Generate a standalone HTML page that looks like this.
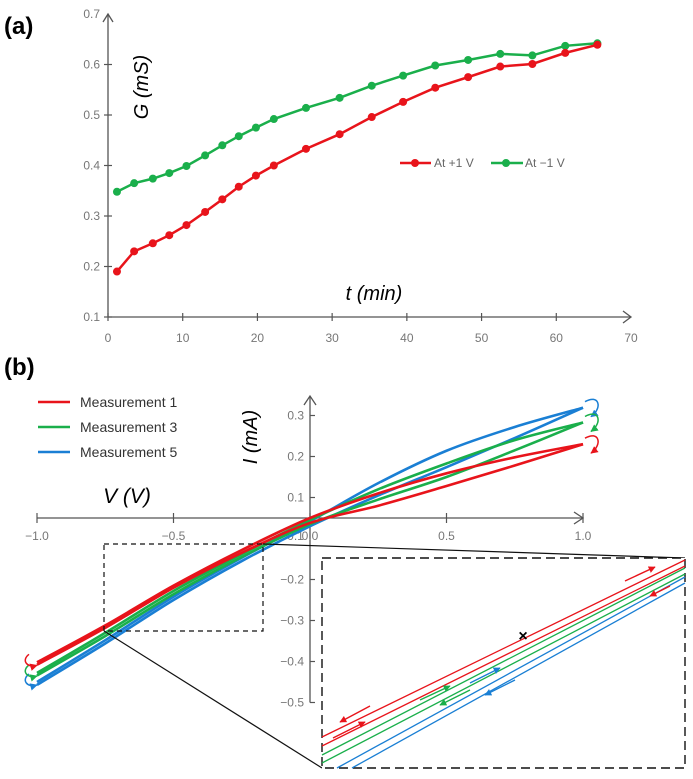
<!DOCTYPE html>
<html><head><meta charset="utf-8"><style>
html,body{margin:0;padding:0;background:#fff;}
svg{display:block;font-family:"Liberation Sans",sans-serif;}
</style></head><body>
<svg id="fig" width="693" height="779" viewBox="0 0 693 779">
<defs>
<marker id="ahR" viewBox="0 0 10 10" refX="9" refY="5" markerWidth="5" markerHeight="5" orient="auto"><path d="M0,0 L10,5 L0,10 z" fill="#e8141b"/></marker>
<marker id="ahG" viewBox="0 0 10 10" refX="9" refY="5" markerWidth="5" markerHeight="5" orient="auto"><path d="M0,0 L10,5 L0,10 z" fill="#1aaf4b"/></marker>
<marker id="ahB" viewBox="0 0 10 10" refX="9" refY="5" markerWidth="5" markerHeight="5" orient="auto"><path d="M0,0 L10,5 L0,10 z" fill="#1a7fd4"/></marker>
</defs>
<text x="4" y="34" font-size="24" font-weight="bold">(a)</text>
<text x="4" y="375" font-size="24" font-weight="bold">(b)</text>
<g id="topChart"></g>
<g id="botChart"></g>
</svg>
<script>
// ---- Panel (a) data ----
const tRed = [1.2,3.5,6,8.2,10.5,13,15.3,17.5,19.8,22.2,26.5,31,35.3,39.5,43.8,48.2,52.5,56.8,61.2,65.5];
const gRed = [0.19,0.23,0.246,0.262,0.282,0.308,0.333,0.358,0.38,0.40,0.433,0.462,0.496,0.526,0.554,0.575,0.596,0.601,0.623,0.639];
const tGreen = [1.2,3.5,6,8.2,10.5,13,15.3,17.5,19.8,22.2,26.5,31,35.3,39.5,43.8,48.2,52.5,56.8,61.2,65.5];
const gGreen = [0.348,0.365,0.374,0.385,0.399,0.42,0.44,0.458,0.475,0.492,0.514,0.534,0.558,0.578,0.598,0.609,0.621,0.618,0.637,0.642];
const xTicksA = [0,10,20,30,40,50,60,70];
const yTicksA = [0.1,0.2,0.3,0.4,0.5,0.6,0.7];

// ---- Panel (b) data ----
const vVals = [-1,-0.75,-0.5,-0.25,0,0.25,0.5,0.75,1];
const m1Up = [-0.352,-0.262,-0.165,-0.078,0.0,0.06,0.109,0.148,0.18];
const m1Down = [-0.358,-0.268,-0.170,-0.085,-0.012,0.03,0.078,0.128,0.18];
const m3Up = [-0.378,-0.28,-0.178,-0.088,-0.005,0.07,0.133,0.19,0.233];
const m3Down = [-0.384,-0.288,-0.186,-0.095,-0.015,0.045,0.1,0.165,0.233];
const m5Up = [-0.4,-0.298,-0.192,-0.097,-0.008,0.085,0.164,0.222,0.269];
const m5Down = [-0.407,-0.306,-0.2,-0.105,-0.02,0.055,0.124,0.195,0.269];
const vTickVals = [-1,-0.5,0,0.5,1];
const vTickLabels = ["\u22121.0","\u22120.5","0.0","0.5","1.0"];
const iTickVals = [0.25,0.15,0.05,-0.15,-0.25,-0.35,-0.45];
const iTickLabels = ["0.3","0.2","0.1","\u22120.2","\u22120.3","\u22120.4","\u22120.5"];

const NS="http://www.w3.org/2000/svg";
function mk(parent,tag,attrs,text){const el=document.createElementNS(NS,tag);for(const k in attrs)el.setAttribute(k,attrs[k]);if(text!==undefined)el.textContent=text;parent.appendChild(el);return el;}
const RED="#e8141b",GREEN="#1aaf4b",BLUE="#1a7fd4",AX="#555";

// ---- panel a ----
const topG=document.getElementById('topChart');
const xA=t=>108+t*(631-108)/70;
const yA=g=>317-(g-0.1)*(317-14)/0.6;
let e;
e=mk(topG,'line',{x1:xA(0),y1:yA(0.1),x2:xA(70),y2:yA(0.1),stroke:AX,'stroke-width':1.3});

e=mk(topG,'polyline',{points:`${xA(70)-8},${yA(0.1)-6} ${xA(70)},${yA(0.1)} ${xA(70)-8},${yA(0.1)+6}`,fill:'none',stroke:AX,'stroke-width':1.3});

e=mk(topG,'line',{x1:xA(0),y1:yA(0.1),x2:xA(0),y2:yA(0.7),stroke:AX,'stroke-width':1.3});

e=mk(topG,'polyline',{points:`${xA(0)-5},${yA(0.7)+8} ${xA(0)},${yA(0.7)} ${xA(0)+5},${yA(0.7)+8}`,fill:'none',stroke:AX,'stroke-width':1.3});

xTicksA.forEach(t=>{
  if(t<70){e=mk(topG,'line',{x1:xA(t),y1:yA(0.1)-4,x2:xA(t),y2:yA(0.1)+4,stroke:AX,'stroke-width':1.2});
  }
  e=mk(topG,'text',{x:xA(t),y:342,'font-size':12,fill:'#777','text-anchor':'middle'},String(t));
  
});
yTicksA.forEach(g=>{
  if(g<0.7){e=mk(topG,'line',{x1:xA(0)-4,y1:yA(g),x2:xA(0)+4,y2:yA(g),stroke:AX,'stroke-width':1.2});
  }
  e=mk(topG,'text',{x:100,y:yA(g)+4,'font-size':12,fill:'#777','text-anchor':'end'},g.toFixed(1));
  
});
e=mk(topG,'text',{x:0,y:0,'font-size':20,'font-style':'italic',transform:'translate(148,87) rotate(-90)','text-anchor':'middle'},'G (mS)');

e=mk(topG,'text',{x:374,y:300,'font-size':20,'font-style':'italic','text-anchor':'middle'},'t (min)');

function series(ts,gs,col,name){
  e=mk(topG,'polyline',{points:ts.map((t,i)=>xA(t)+','+yA(gs[i])).join(' '),fill:'none',stroke:col,'stroke-width':2.5});
  
  ts.forEach((t,i)=>{e=mk(topG,'circle',{cx:xA(t),cy:yA(gs[i]),r:4,fill:col});
  });
}
series(tGreen,gGreen,GREEN,'at-minus-1v');
series(tRed,gRed,RED,'at-plus-1v');
const LY=163;
e=mk(topG,'line',{x1:400,y1:LY,x2:431,y2:LY,stroke:RED,'stroke-width':2.5});
e=mk(topG,'circle',{cx:415,cy:LY,r:4,fill:RED});
e=mk(topG,'text',{x:434,y:LY+4,'font-size':12,fill:'#666'},'At +1 V');
e=mk(topG,'line',{x1:491,y1:LY,x2:523,y2:LY,stroke:GREEN,'stroke-width':2.5});
e=mk(topG,'circle',{cx:506,cy:LY,r:4,fill:GREEN});
e=mk(topG,'text',{x:525,y:LY+4,'font-size':12,fill:'#666'},'At \u22121 V');

// ---- panel b ----
const botG=document.getElementById('botChart');
const xB=v=>310+v*273;
const yB=i=>518-i*410;
e=mk(botG,'line',{x1:xB(-1),y1:yB(0),x2:xB(1),y2:yB(0),stroke:AX,'stroke-width':1.3});

e=mk(botG,'polyline',{points:`${xB(1)-9},${yB(0)-6} ${xB(1)},${yB(0)} ${xB(1)-9},${yB(0)+6}`,fill:'none',stroke:AX,'stroke-width':1.3});

e=mk(botG,'line',{x1:xB(0),y1:yB(-0.45),x2:xB(0),y2:396,stroke:AX,'stroke-width':1.3});

e=mk(botG,'polyline',{points:`${xB(0)-6},405 ${xB(0)},396 ${xB(0)+6},405`,fill:'none',stroke:AX,'stroke-width':1.3});

vTickVals.forEach((v,k)=>{
  e=mk(botG,'line',{x1:xB(v),y1:yB(0)-5,x2:xB(v),y2:yB(0)+5,stroke:AX,'stroke-width':1.2});
  
  e=mk(botG,'text',{x:xB(v),y:540,'font-size':12,fill:'#777','text-anchor':'middle'},vTickLabels[k]);
  
});
e=mk(botG,'text',{x:292,y:540,'font-size':12,fill:'#777','text-anchor':'middle'},'\u22120.1');

iTickVals.forEach((v,k)=>{
  e=mk(botG,'line',{x1:xB(0),y1:yB(v),x2:xB(0)+5,y2:yB(v),stroke:AX,'stroke-width':1.2});
  
  e=mk(botG,'text',{x:xB(0)-6,y:yB(v)+4,'font-size':12,fill:'#777','text-anchor':'end'},iTickLabels[k]);
  
});
e=mk(botG,'text',{x:0,y:0,'font-size':20,'font-style':'italic',transform:'translate(257,437) rotate(-90)','text-anchor':'middle'},'I (mA)');

e=mk(botG,'text',{x:127,y:503,'font-size':21,'font-style':'italic','text-anchor':'middle'},'V (V)');


function smooth(pts){
  let d='M'+pts[0][0]+','+pts[0][1];
  for(let i=0;i<pts.length-1;i++){
    const p0=pts[Math.max(0,i-1)],p1=pts[i],p2=pts[i+1],p3=pts[Math.min(pts.length-1,i+2)];
    const c1=[p1[0]+(p2[0]-p0[0])/6,p1[1]+(p2[1]-p0[1])/6],c2=[p2[0]-(p3[0]-p1[0])/6,p2[1]-(p3[1]-p1[1])/6];
    d+=` C${c1[0]},${c1[1]} ${c2[0]},${c2[1]} ${p2[0]},${p2[1]}`;
  }
  return d;
}
function loop(up,down,col,name,mark){
  [up,down].forEach((arr,j)=>{
    e=mk(botG,'path',{d:smooth(vVals.map((v,i)=>[xB(v),yB(arr[i])])),fill:'none',stroke:col,'stroke-width':2.6});
    
  });
  const xr=xB(1),yr=yB(up[8]),xl=xB(-1),yl=yB(up[0]);
  e=mk(botG,'path',{d:`M${xr+2},${yr-6} C${xr+16},${yr-14} ${xr+20},${yr} ${xr+8},${yr+9}`,fill:'none',stroke:col,'stroke-width':1.5,'marker-end':`url(#${mark})`});
  
  e=mk(botG,'path',{d:`M${xl-8},${yl-8} C${xl-16},${yl-2} ${xl-10},${yl+6} ${xl},${yl+3}`,fill:'none',stroke:col,'stroke-width':1.5,'marker-end':`url(#${mark})`});
  
}
loop(m5Up,m5Down,BLUE,'measurement-5','ahB');
loop(m3Up,m3Down,GREEN,'measurement-3','ahG');
loop(m1Up,m1Down,RED,'measurement-1','ahR');

// legend b
[[RED,'Measurement 1',402],[GREEN,'Measurement 3',427],[BLUE,'Measurement 5',452]].forEach(([c,t,y])=>{
  e=mk(botG,'line',{x1:38,y1:y,x2:70,y2:y,stroke:c,'stroke-width':2.5});
  
  e=mk(botG,'text',{x:80,y:y+5,'font-size':14,fill:'#333'},t);
  
});

// zoom boxes
e=mk(botG,'rect',{x:104,y:544,width:159,height:87,fill:'none',stroke:'#111','stroke-width':1.2,'stroke-dasharray':'5,4'});

e=mk(botG,'line',{x1:263,y1:544,x2:685,y2:558,stroke:'#111','stroke-width':1.2});

e=mk(botG,'line',{x1:104,y1:631,x2:322,y2:768,stroke:'#111','stroke-width':1.2});

e=mk(botG,'rect',{x:322,y:558,width:363,height:210,fill:'#fff',stroke:'#111','stroke-width':1.4,'stroke-dasharray':'9,5'});

const insetLines=[[RED,322,737,685,560],[RED,322,746,685,566],[GREEN,322,755,685,568],[GREEN,322,763,685,574],[BLUE,337,768,685,577],[BLUE,352,768,685,583]];
insetLines.forEach(([c,x1,y1,x2,y2])=>{
  e=mk(botG,'line',{x1,y1,x2,y2,stroke:c,'stroke-width':1.3});
  
});
const insetArrows=[[RED,625,581,655,567],[RED,670,586,650,596],[RED,370,706,340,722],[RED,333,738,365,722],[GREEN,420,700,450,686],[GREEN,470,690,440,705],[BLUE,470,683,500,668],[BLUE,515,680,485,695]];
insetArrows.forEach(([c,x1,y1,x2,y2])=>{
  const m=c===RED?'ahR':c===GREEN?'ahG':'ahB';
  e=mk(botG,'line',{x1,y1,x2,y2,stroke:c,'stroke-width':1.4,'marker-end':`url(#${m})`});
  
});
e=mk(botG,'text',{x:523,y:641,'font-size':16,'font-weight':'bold','text-anchor':'middle'},'\u00d7');

</script>
</body></html>
